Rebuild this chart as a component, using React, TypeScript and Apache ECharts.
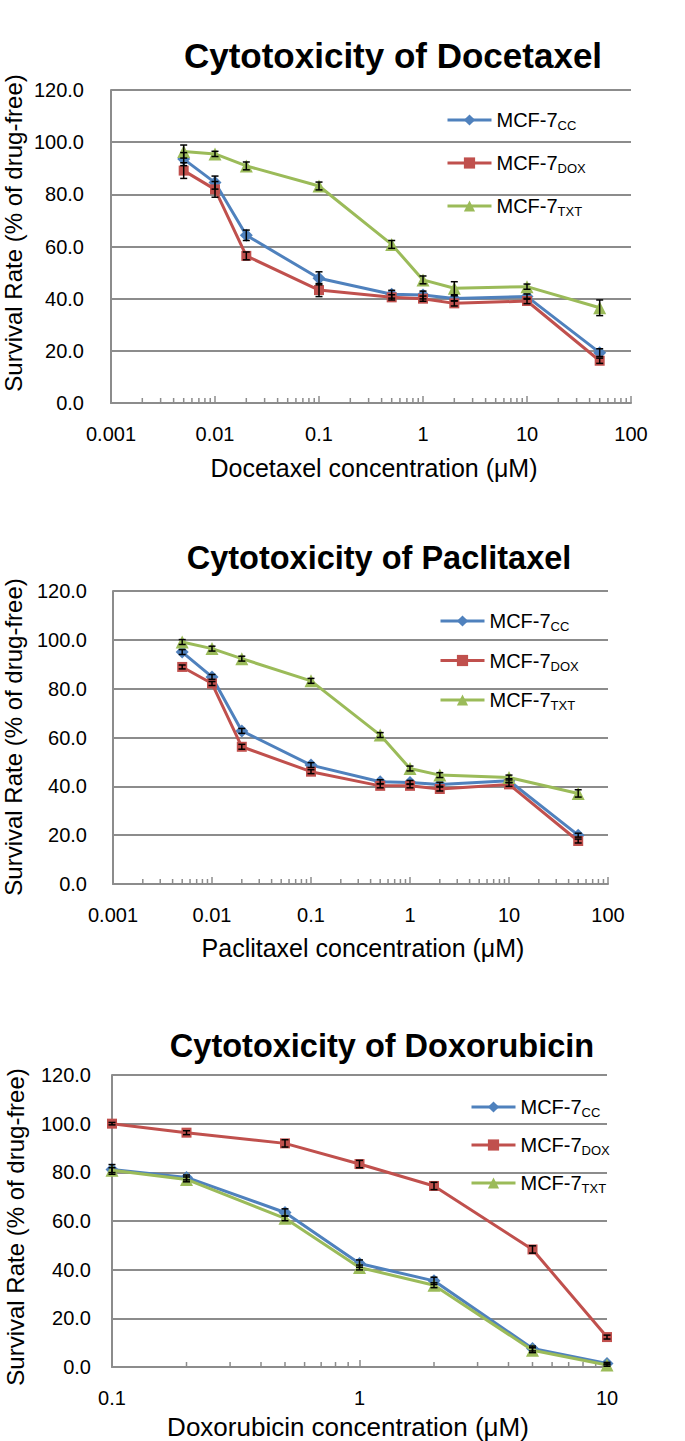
import React, { useEffect, useRef } from "react";
import * as echarts from "echarts";

// ---------- data ----------
const taxaneConc = [0.005, 0.01, 0.02, 0.1, 0.5, 1, 2, 10, 50];
const doxConc = [0.1, 0.2, 0.5, 1, 2, 5, 10];
const seriesNames = ["MCF-7CC", "MCF-7DOX", "MCF-7TXT"];

const docetaxelCC = [93.5, 84.5, 64.3, 47.8, 41.7, 41.4, 40.1, 40.8, 19.3];
const docetaxelDOX = [89.1, 81.9, 56.4, 43.3, 40.5, 40.0, 38.2, 39.1, 16.2];
const docetaxelTXT = [96.4, 95.5, 90.9, 83.2, 60.8, 47.2, 44.0, 44.6, 36.5];
const docetaxelErrCC = [2.5, 2.5, 2, 2.5, 1.5, 1.5, 1, 1, 1.5];
const docetaxelErrDOX = [3, 3, 1.5, 2.5, 1, 1, 1, 1, 1];
const docetaxelErrTXT = [2.5, 1, 1.5, 1.5, 1.5, 1.5, 2.5, 1, 3];

const paclitaxelCC = [95.0, 84.8, 62.7, 48.7, 41.9, 41.6, 40.8, 42.3, 20.0];
const paclitaxelDOX = [88.9, 82.1, 56.2, 46.0, 40.2, 40.2, 38.9, 40.8, 17.6];
const paclitaxelTXT = [99.1, 96.4, 92.3, 83.2, 61.0, 47.3, 44.6, 43.6, 37.1];
const paclitaxelErrCC = [1, 1, 1, 1, 0.8, 0.8, 0.8, 0.8, 0.8];
const paclitaxelErrDOX = [0.8, 0.8, 1, 0.8, 0.8, 0.8, 0.8, 0.8, 0.8];
const paclitaxelErrTXT = [1, 1, 1, 1, 1, 1, 1, 1, 1.5];

const doxorubicinCC = [81.2, 77.9, 63.5, 42.5, 35.4, 7.6, 1.4];
const doxorubicinDOX = [100.0, 96.3, 91.9, 83.4, 74.4, 48.3, 12.3];
const doxorubicinTXT = [80.9, 77.1, 61.1, 40.9, 33.6, 6.9, 0.8];
const doxorubicinErrCC = [2, 1, 1.5, 1.5, 1.5, 1, 0.5];
const doxorubicinErrDOX = [0.5, 0.8, 1.5, 1.5, 1.5, 1.5, 0.8];
const doxorubicinErrTXT = [1, 1, 1, 1, 1, 1, 0.5];

const titles = ["Cytotoxicity of Docetaxel", "Cytotoxicity of Paclitaxel", "Cytotoxicity of Doxorubicin"];
const xTitles = ["Docetaxel concentration (\u03bcM)", "Paclitaxel concentration (\u03bcM)", "Doxorubicin concentration (\u03bcM)"];
const yTitle = "Survival Rate (% of drug-free)";
const xRanges = [[0.001, 100], [0.001, 100], [0.1, 10]];
const yMin = 0;
const yMax = 120;
const yStep = 20;

// ---------- style ----------
const COLORS = ["#4F81BD", "#C0504D", "#9BBB59"];
const SYMBOLS = ["diamond", "rect", "triangle"];
const SYMBOL_SIZES = [13, 10, 13];
const GRID_C = "#8c8c8c";
const FONT = "'Liberation Sans', Arial, sans-serif";

const layouts = [
  { left: 111, top: 90, width: 520, height: 313, ym: 27, titleX: 393, titleY: 55, titleSize: 35,
    xtX: 374, xtY: 468, xtSize: 25, ytX: 13, ytY: 233, legX: 446, legY: 110, legGap: 21 },
  { left: 113, top: 591, width: 495, height: 293, ym: 26, titleX: 379, titleY: 558, titleSize: 32.5,
    xtX: 363, xtY: 948, xtSize: 25, ytX: 13, ytY: 737, legX: 439, legY: 611, legGap: 17.5 },
  { left: 112, top: 1075, width: 495, height: 292, ym: 21, titleX: 382, titleY: 1046, titleSize: 32.5,
    xtX: 348, xtY: 1427, xtSize: 26, ytX: 15, ytY: 1227, legX: 470, legY: 1097, legGap: 16 },
];

const panels = [
  { conc: taxaneConc, values: [docetaxelCC, docetaxelDOX, docetaxelTXT], errs: [docetaxelErrCC, docetaxelErrDOX, docetaxelErrTXT] },
  { conc: taxaneConc, values: [paclitaxelCC, paclitaxelDOX, paclitaxelTXT], errs: [paclitaxelErrCC, paclitaxelErrDOX, paclitaxelErrTXT] },
  { conc: doxConc, values: [doxorubicinCC, doxorubicinDOX, doxorubicinTXT], errs: [doxorubicinErrCC, doxorubicinErrDOX, doxorubicinErrTXT] },
];

function minorTickValues(min: number, max: number) {
  const out: number[][] = [];
  for (let d = min; d < max * 0.999; d *= 10) {
    for (let m = 2; m <= 9; m++) out.push([parseFloat((d * m).toPrecision(6)), 0]);
  }
  return out;
}

function fmtLog(v: number) {
  return String(parseFloat(Number(v).toPrecision(6)));
}

function buildOption() {
  const grid: any[] = [];
  const xAxis: any[] = [];
  const yAxis: any[] = [];
  const series: any[] = [];
  const legend: any[] = [];
  const graphic: any[] = [];

  panels.forEach((p, i) => {
    const L = layouts[i];
    const [xMin, xMax] = xRanges[i];
    grid.push({ left: L.left, top: L.top, width: L.width, height: L.height });
    xAxis.push({
      type: "log",
      logBase: 10,
      gridIndex: i,
      min: xMin,
      max: xMax,
      splitNumber: Math.round(Math.log10(xMax / xMin)),
      axisLine: { show: true, onZero: false, lineStyle: { color: GRID_C, width: 2 } },
      axisTick: { show: true, inside: true, length: 7, lineStyle: { color: GRID_C, width: 1.5 } },
      axisLabel: { fontSize: 20, color: "#000", margin: 21, fontFamily: FONT, formatter: fmtLog, showMinLabel: true, showMaxLabel: true },
      splitLine: { show: false },
    });
    yAxis.push({
      type: "value",
      gridIndex: i,
      min: yMin,
      max: yMax,
      interval: yStep,
      axisLine: { show: true, lineStyle: { color: GRID_C, width: 2 } },
      axisTick: { show: false },
      axisLabel: { fontSize: 20, color: "#000", margin: L.ym, fontFamily: FONT, formatter: (v: number) => v.toFixed(1) },
      splitLine: { show: true, lineStyle: { color: GRID_C, width: 2 } },
    });

    // minor ticks on log axis
    series.push({
      type: "custom",
      xAxisIndex: i,
      yAxisIndex: i,
      silent: true,
      clip: false,
      z: 1,
      data: minorTickValues(xMin, xMax),
      encode: { x: 0, y: 1 },
      renderItem: (_params: any, api: any) => {
        const pt = api.coord([api.value(0), api.value(1)]);
        return {
          type: "line",
          shape: { x1: pt[0], y1: pt[1], x2: pt[0], y2: pt[1] - 5 },
          style: { stroke: GRID_C, lineWidth: 1.5 },
        };
      },
    });

    p.values.forEach((vals, s) => {
      series.push({
        type: "line",
        name: seriesNames[s],
        xAxisIndex: i,
        yAxisIndex: i,
        data: p.conc.map((c, k) => [c, vals[k]]),
        symbol: SYMBOLS[s],
        symbolSize: SYMBOL_SIZES[s],
        showSymbol: true,
        clip: false,
        z: 3 + s,
        lineStyle: { color: COLORS[s], width: 3 },
        itemStyle: { color: COLORS[s] },
      });
    });

    p.values.forEach((vals, s) => {
      series.push({
        type: "custom",
        xAxisIndex: i,
        yAxisIndex: i,
        silent: true,
        clip: false,
        z: 7,
        data: p.conc.map((c, k) => [c, vals[k] - p.errs[s][k], vals[k] + p.errs[s][k]]),
        encode: { x: 0, y: [1, 2] },
        renderItem: (_params: any, api: any) => {
          const x = api.value(0);
          const lo = api.coord([x, api.value(1)]);
          const hi = api.coord([x, api.value(2)]);
          const w = 3.5;
          const st = { stroke: "#000", lineWidth: 1.5 };
          return {
            type: "group",
            children: [
              { type: "line", shape: { x1: lo[0], y1: lo[1], x2: hi[0], y2: hi[1] }, style: st },
              { type: "line", shape: { x1: hi[0] - w, y1: hi[1], x2: hi[0] + w, y2: hi[1] }, style: st },
              { type: "line", shape: { x1: lo[0] - w, y1: lo[1], x2: lo[0] + w, y2: lo[1] }, style: st },
            ],
          };
        },
      });
    });

    legend.push({
      data: seriesNames,
      orient: "vertical",
      left: L.legX,
      top: L.legY,
      padding: 0,
      itemWidth: 44,
      itemHeight: 14,
      itemGap: L.legGap,
      selectedMode: false,
      lineStyle: { width: 3 },
      formatter: (n: string) => `{m|MCF-7}{s|${n.slice(5)}}`,
      textStyle: {
        rich: {
          m: { fontSize: 20, fontFamily: FONT, color: "#000", lineHeight: 24 },
          s: { fontSize: 13, fontFamily: FONT, color: "#000", lineHeight: 12, verticalAlign: "bottom" },
        },
      },
    });

    graphic.push({
      type: "text",
      x: L.titleX,
      y: L.titleY,
      style: { text: titles[i], font: `bold ${L.titleSize}px ${FONT}`, fill: "#000", align: "center", verticalAlign: "middle" },
    });
    graphic.push({
      type: "text",
      x: L.xtX,
      y: L.xtY,
      style: { text: xTitles[i], font: `${L.xtSize}px ${FONT}`, fill: "#000", align: "center", verticalAlign: "middle" },
    });
    graphic.push({
      type: "text",
      x: L.ytX,
      y: L.ytY,
      rotation: Math.PI / 2,
      style: { text: yTitle, font: `24px ${FONT}`, fill: "#000", align: "center", verticalAlign: "middle" },
    });
  });

  return {
    animation: false,
    backgroundColor: "#ffffff",
    grid,
    xAxis,
    yAxis,
    series,
    legend,
    graphic,
  };
}

export default function App() {
  const ref = useRef<HTMLDivElement>(null);
  useEffect(() => {
    if (!ref.current) return;
    const chart = echarts.init(ref.current, undefined, { renderer: "svg" });
    chart.setOption(buildOption() as any);
    return () => chart.dispose();
  }, []);
  return (
    <div
      ref={ref}
      style={{ position: "absolute", left: 0, top: 0, width: 685, height: 1441, background: "#fff" }}
    />
  );
}
